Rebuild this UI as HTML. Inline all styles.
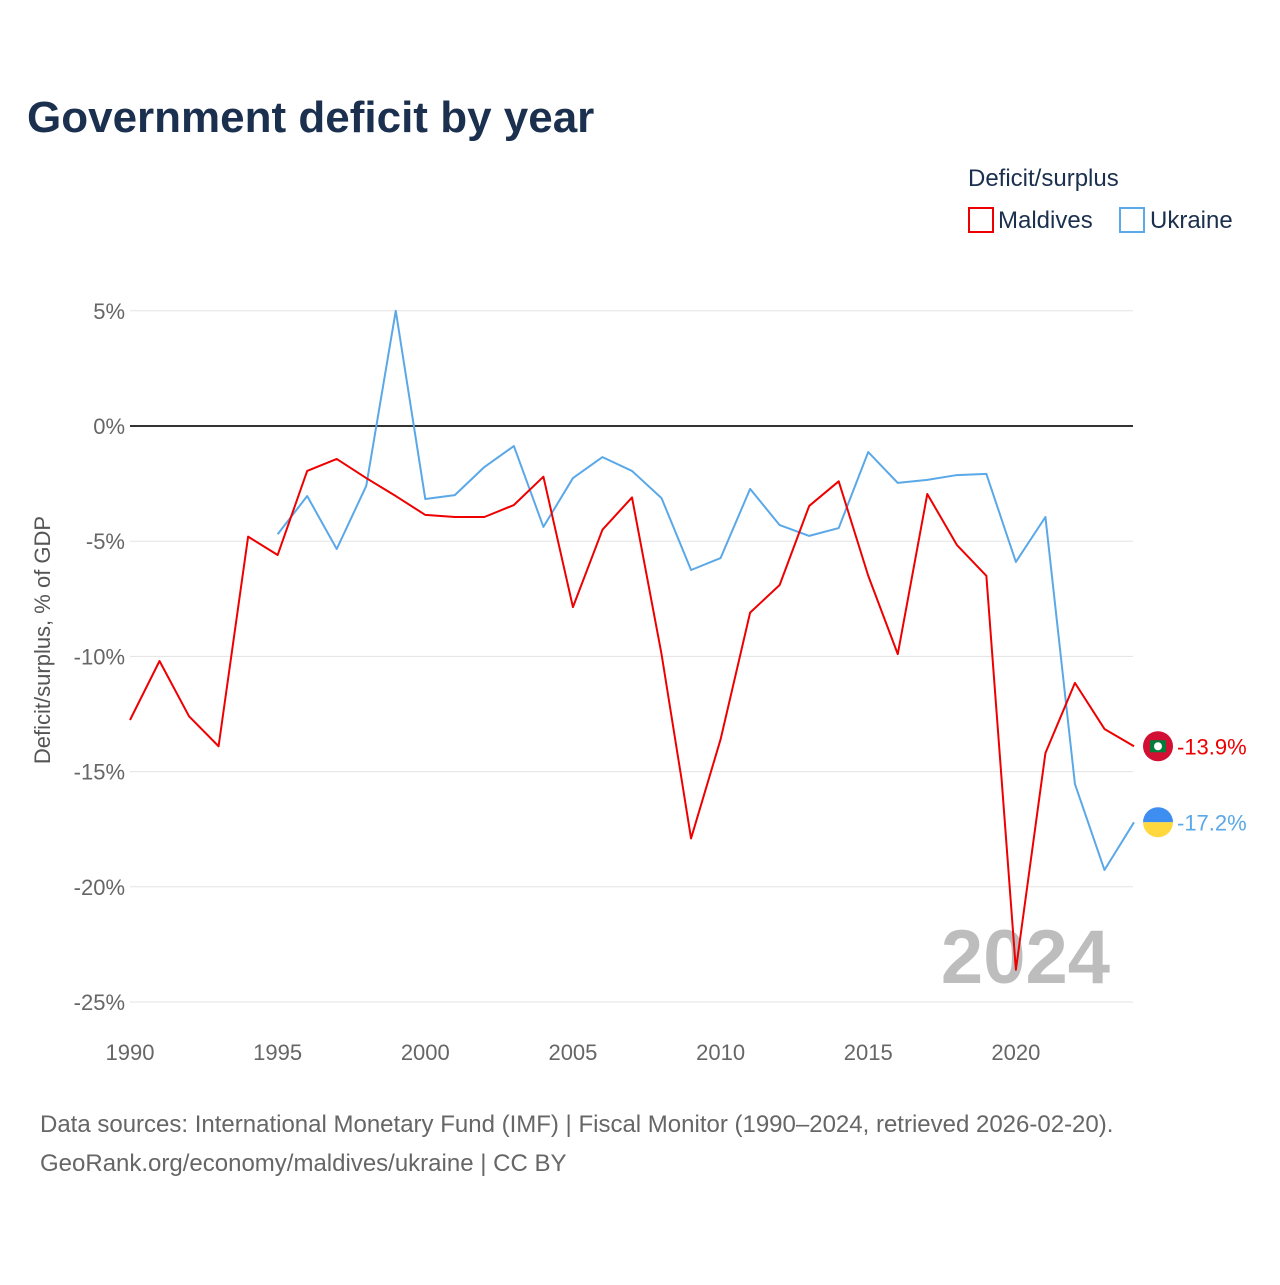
<!DOCTYPE html>
<html><head><meta charset="utf-8"><style>
body{margin:0;background:#fff;width:1280px;height:1280px;overflow:hidden;font-family:"Liberation Sans",sans-serif}
</style></head><body>
<svg id="chart" width="1280" height="1280" xmlns="http://www.w3.org/2000/svg">
<text x="27" y="132" font-size="44" font-weight="bold" fill="#1b2f4e">Government deficit by year</text>
<text x="968" y="186" font-size="24" fill="#1b2f4e">Deficit/surplus</text>
<g><rect x="969" y="208" width="24" height="24" fill="none" stroke="#ee0000" stroke-width="2"/><text x="998" y="228" font-size="24" fill="#1b2f4e">Maldives</text></g>
<g><rect x="1120" y="208" width="24" height="24" fill="none" stroke="#5aa8e8" stroke-width="2"/><text x="1150" y="228" font-size="24" fill="#1b2f4e">Ukraine</text></g>
<text transform="translate(50,640) rotate(-90)" text-anchor="middle" font-size="22" fill="#555">Deficit/surplus, % of GDP</text>
<text x="1110" y="983" text-anchor="end" font-size="76" font-weight="bold" fill="#bdbdbd">2024</text>
<g id="grid"></g><g id="series"></g>
<text x="40" y="1132" font-size="24" fill="#666">Data sources: International Monetary Fund (IMF) | Fiscal Monitor (1990–2024, retrieved 2026-02-20).</text>
<text x="40" y="1171" font-size="24" fill="#666">GeoRank.org/economy/maldives/ukraine | CC BY</text>
</svg>
<script>
const years=[1990,1991,1992,1993,1994,1995,1996,1997,1998,1999,2000,2001,2002,2003,2004,2005,2006,2007,2008,2009,2010,2011,2012,2013,2014,2015,2016,2017,2018,2019,2020,2021,2022,2023,2024];
const maldives=[-12.76,-10.2,-12.6,-13.9,-4.8,-5.6,-1.95,-1.43,-2.26,-3.04,-3.86,-3.95,-3.95,-3.43,-2.2,-7.86,-4.5,-3.1,-9.9,-17.9,-13.6,-8.1,-6.9,-3.47,-2.4,-6.5,-9.9,-2.95,-5.16,-6.5,-23.6,-14.2,-11.15,-13.15,-13.9];
const ukraineYears=[1995,1996,1997,1998,1999,2000,2001,2002,2003,2004,2005,2006,2007,2008,2009,2010,2011,2012,2013,2014,2015,2016,2017,2018,2019,2020,2021,2022,2023,2024];
const ukraine=[-4.7,-3.04,-5.34,-2.6,5.0,-3.17,-3.0,-1.78,-0.87,-4.38,-2.26,-1.35,-1.95,-3.13,-6.25,-5.73,-2.73,-4.3,-4.77,-4.43,-1.13,-2.47,-2.34,-2.13,-2.08,-5.9,-3.95,-15.54,-19.27,-17.2];
const yTicks=[5,0,-5,-10,-15,-20,-25];
const xTicks=[1990,1995,2000,2005,2010,2015,2020];
const NS="http://www.w3.org/2000/svg";
const x=v=>130+(v-1990)*(1134-130)/34;
const y=v=>426-v*23.04;
const grid=document.getElementById('grid'),ser=document.getElementById('series');
function mk(tag,at,parent){const e=document.createElementNS(NS,tag);for(const k in at)e.setAttribute(k,at[k]);parent.appendChild(e);return e;}
yTicks.forEach(t=>{
 const l=mk('line',{x1:130,x2:1133,y1:y(t),y2:y(t),stroke:t===0?'#333':'#e3e3e3','stroke-width':t===0?2:1},grid);
 
 
 const tx=mk('text',{x:125,y:y(t)+8,'text-anchor':'end','font-size':22,fill:'#666'},grid);tx.textContent=t+'%';
 
 
});
xTicks.forEach(t=>{
 const tx=mk('text',{x:x(t),y:1060,'text-anchor':'middle','font-size':22,fill:'#666'},grid);tx.textContent=t;
 
 
});
function line(xs,vs,col,name){
 const p=mk('polyline',{points:xs.map((yr,i)=>x(yr)+','+y(vs[i])).join(' '),fill:'none',stroke:col,'stroke-width':2,'stroke-linejoin':'round'},ser);
 
 
}
line(ukraineYears,ukraine,'#5aa8e8','ukraine-line');
line(years,maldives,'#ee0000','maldives-line');
function endLabel(v,col,name,flag){
 const cy=y(v);
 const g=mk('g',{},ser);
 
 
 if(flag==='mv'){mk('circle',{cx:1158,cy:cy,r:15,fill:'#d21034'},g);mk('rect',{x:1150,y:cy-6,width:16,height:12,fill:'#007e3a'},g);mk('circle',{cx:1158,cy:cy,r:4,fill:'#fff'},g);}
 else{mk('path',{d:`M1143 ${cy} A15 15 0 0 1 1173 ${cy} Z`,fill:'#3d8ef0'},g);mk('path',{d:`M1143 ${cy} A15 15 0 0 0 1173 ${cy} Z`,fill:'#ffd83d'},g);}
 const t=mk('text',{x:1177,y:cy+8,'font-size':22,fill:col},g);t.textContent=v.toFixed(1)+'%';
}
endLabel(maldives[maldives.length-1],'#ee0000','maldives-end-label','mv');
endLabel(ukraine[ukraine.length-1],'#5aa8e8','ukraine-end-label','ua');
</script>
</body></html>
